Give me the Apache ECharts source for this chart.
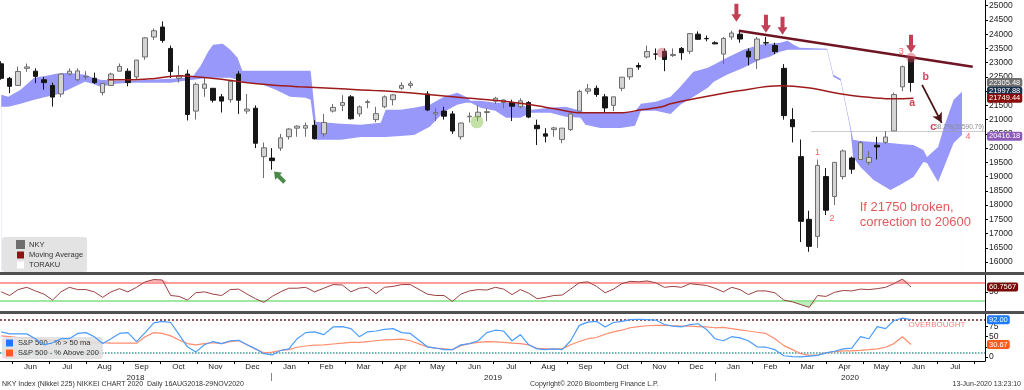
<!DOCTYPE html>
<html><head><meta charset="utf-8">
<script src="https://cdn.jsdelivr.net/npm/echarts@6/dist/echarts.min.js"></script>
<style>html,body{margin:0;padding:0;background:#fff}#c{width:1024px;height:390px}</style>
</head><body><div id="c"></div>
<script>
// ---------------- DATA ----------------
const weekDates = ['2018-05-23','2018-05-30','2018-06-06','2018-06-13','2018-06-20','2018-06-27','2018-07-04','2018-07-11','2018-07-18','2018-07-25','2018-08-01','2018-08-08','2018-08-15','2018-08-22','2018-08-29','2018-09-05','2018-09-12','2018-09-19','2018-09-26','2018-10-03','2018-10-10','2018-10-17','2018-10-24','2018-10-31','2018-11-07','2018-11-14','2018-11-21','2018-11-28','2018-12-05','2018-12-12','2018-12-19','2018-12-26',
'2019-01-02','2019-01-09','2019-01-16','2019-01-23','2019-01-30','2019-02-06','2019-02-13','2019-02-20','2019-02-27','2019-03-06','2019-03-13','2019-03-20','2019-03-27','2019-04-03','2019-04-10','2019-04-17','2019-04-24','2019-05-08','2019-05-15','2019-05-22','2019-05-29','2019-06-05','2019-06-12','2019-06-19','2019-06-26','2019-07-03','2019-07-10','2019-07-17','2019-07-24','2019-07-31','2019-08-07','2019-08-14','2019-08-21','2019-08-28','2019-09-04','2019-09-11','2019-09-18','2019-09-25','2019-10-02','2019-10-09','2019-10-16','2019-10-23','2019-10-30','2019-11-06','2019-11-13','2019-11-20','2019-11-27','2019-12-04','2019-12-11','2019-12-18','2019-12-25',
'2020-01-01','2020-01-08','2020-01-15','2020-01-22','2020-01-29','2020-02-05','2020-02-12','2020-02-19','2020-02-26','2020-03-04','2020-03-11','2020-03-18','2020-03-25','2020-04-01','2020-04-08','2020-04-15','2020-04-22','2020-04-29','2020-05-06','2020-05-13','2020-05-20','2020-05-27','2020-06-03','2020-06-10'];

const nkyOpen = [22960,22450,22200,22800,22700,22400,22200,21900,22600,22400,22500,22450,21950,22200,22700,22700,22500,23200,23900,24250,23500,22450,22600,21300,22100,22100,21800,21700,22600,21300,21400,19700,
19650,20000,20400,20700,20700,20800,20500,21300,21500,21800,21200,21600,21000,21450,21700,22100,22200,21900,21200,21300,21200,20400,21100,21100,21250,21650,21600,21600,21450,21600,20800,20500,20650,20300,20650,21300,22000,22100,21800,21500,22100,22500,22900,23200,23300,23400,23250,23500,23400,24000,23850,
23700,23300,23900,24000,23400,23100,23700,23600,22800,21000,19700,17500,16900,19000,18300,19000,19650,19600,19500,20100,20200,20600,22150,23150];
const nkyHigh = [23050,22500,22860,22970,22800,22500,22300,22620,22800,22800,22700,22650,22270,22650,22970,22800,23100,23900,24200,24450,23600,22900,22750,22300,22500,22100,21900,22400,22700,21900,21500,20200,
20000,20500,20700,20800,20900,20980,21200,21550,21860,21860,21500,21700,21450,21850,21900,22310,22360,22000,21400,21450,21300,20900,21250,21500,21400,21800,21700,21700,21750,21650,21000,20700,20750,20700,21250,22050,22250,22200,21900,21800,22500,22800,23000,23600,23500,23500,23500,23550,24000,24100,23950,
23750,23900,24120,24100,23500,23900,23900,23700,22950,21400,20300,17800,19600,19300,19500,19950,19700,20250,19900,20400,20600,21950,22900,23190];
const nkyLow = [22400,21930,22180,22680,22280,22050,21460,21790,22550,22350,22400,22250,21850,22200,22700,22170,22400,23100,23800,23700,22460,22300,20970,21000,21800,21600,21250,21600,21200,21200,20000,18950,
19240,19900,20300,20400,20400,20300,20400,21250,21300,21000,21100,21400,20910,21400,21500,22050,22100,21300,20950,21000,20500,20300,20900,20950,20950,21550,21400,20950,21400,21050,20110,20200,20400,20170,20600,21300,21900,21800,21250,21300,22000,22400,22750,23150,23100,22700,23200,23100,23300,23800,23750,
23650,22950,23800,23700,22900,22780,23600,23300,21000,20200,16700,16360,16500,17650,18000,18900,19100,19600,19400,19600,20150,20600,22000,21980];
const nkyClose = [22450,22170,22690,22850,22520,22300,21790,22600,22700,22710,22520,22300,22270,22600,22870,22300,23090,23870,24120,23780,22690,22530,21180,22240,22250,21680,21650,22350,21680,21370,20170,20010,
19560,20360,20670,20770,20790,20330,20900,21430,21600,21030,21450,21630,21210,21800,21870,22200,22260,21340,21250,21120,20600,20880,21120,21260,21280,21750,21690,21470,21660,21090,20680,20420,20710,20700,21200,21990,22080,21880,21410,21800,22490,22800,22850,23390,23300,23110,23290,23350,24020,23820,23840,
23660,23850,24040,23830,23200,23830,23690,23390,21140,20750,17430,16550,19390,17820,19500,19900,19260,20190,19670,20040,20390,21880,22860,22305.48];

const rsiValues = [50,42,55,60,52,45,32,50,60,55,55,50,38,50,57,50,60,72,77,76,42,40,32,48,50,45,42,55,56,45,35,27,
40,50,58,58,60,50,58,66,65,50,58,60,46,60,62,66,66,45,42,42,29,45,52,55,54,60,56,44,55,47,35,38,42,43,56,70,72,62,48,56,68,73,72,74,70,60,62,60,68,66,64,
58,50,60,55,44,52,52,48,32,28,22,16,42,40,49,53,52,56,55,57,60,68,78,60.7567];

const spxAbove50 = [62,57,57,57,45,30,35,45,45,58,60,50,33,45,58,60,38,60,84,88,85,55,25,12,30,38,33,40,41,30,20,8,
5,16,20,45,60,62,55,74,75,70,50,62,64,68,70,60,58,25,22,18,18,30,33,40,60,66,64,40,55,30,20,18,20,18,40,78,86,88,74,85,88,92,93,92,91,80,76,74,80,82,68,
45,40,50,47,40,25,24,18,3,1,0,2,4,10,14,20,22,50,45,75,70,90,96,92.00];
const spxAbove200 = [52,50,48,47,45,43,40,40,38,37,36,35,35,34,34,34,34,50,60,58,52,42,33,30,33,35,33,38,40,30,20,10,
12,16,18,24,27,29,30,32,34,36,36,38,40,42,43,44,40,25,22,20,18,28,33,36,38,37,36,34,33,30,21,20,20,20,30,38,45,48,56,62,66,72,75,77,78,78,77,76,76,75,74,
72,73,70,67,64,61,58,45,28,18,8,4,5,10,13,15,15,16,18,20,24,33,50,30.67];

const maDates = ['2018-08-19','2018-09-07','2018-09-23','2018-10-18','2018-10-31','2018-11-17','2018-12-06','2018-12-30','2019-01-25','2019-02-26','2019-03-31','2019-05-02','2019-06-07','2019-07-07','2019-08-02','2019-08-22','2019-09-12','2019-10-15','2019-11-01','2019-11-18','2019-11-25','2019-12-19','2020-01-21','2020-02-23','2020-03-17','2020-04-18','2020-05-28','2020-06-12'];
const maValues = [22398,22398,22433,22539,22504,22433,22328,22222,22152,22082,22011,21906,21765,21660,21519,21378,21238,21238,21343,21449,21554,21765,22011,22187,22117,21871,21730,21749.44];

const cloudDates = ['2018-05-23','2018-05-29','2018-06-08','2018-06-19','2018-06-29','2018-07-07','2018-07-17','2018-07-24','2018-07-31','2018-08-07','2018-08-13','2018-08-26','2018-09-07','2018-09-23','2018-10-10','2018-10-22','2018-10-29','2018-11-04','2018-11-10','2018-11-14','2018-11-22','2018-11-28','2018-12-04','2018-12-08','2018-12-23','2019-01-05','2019-01-17','2019-01-30','2019-02-03','2019-02-07','2019-02-26','2019-03-14','2019-03-31','2019-04-04','2019-04-16','2019-04-27','2019-05-10','2019-05-22','2019-06-02','2019-06-09','2019-06-13','2019-06-21','2019-07-03','2019-07-12','2019-07-24','2019-08-02','2019-08-18','2019-08-31','2019-09-12','2019-09-16','2019-09-28','2019-10-15','2019-10-27','2019-11-01','2019-11-13','2019-11-25','2019-12-03','2019-12-14','2019-12-26','2019-12-31','2020-01-11','2020-01-25','2020-02-07','2020-02-15','2020-02-23','2020-02-29','2020-03-05','2020-03-10','2020-04-02','2020-04-07','2020-04-13','2020-04-18','2020-04-21','2020-04-23','2020-04-29','2020-05-10','2020-05-24','2020-06-01','2020-06-12','2020-06-20','2020-06-23','2020-07-02','2020-07-07','2020-07-15','2020-07-22'];
const cloudLower = [21450,21450,21554,21695,21800,21871,22047,22187,22328,22258,22152,22258,22293,22293,22293,22363,22398,22433,22469,22469,22469,22469,22398,22328,22258,22047,21800,21765,21695,20289,20289,20394,20394,20394,20429,20464,20746,21273,21519,21589,21589,21414,21308,21062,21062,21238,21238,21097,21062,20816,20710,20710,20781,21308,21308,21200,21519,21800,22117,22328,22574,22820,23101,23207,23383,23453,23453,23453,23453,22504,22363,21273,20640,19691,19339,18882,18531,18706,18988,19515,19480,18812,19339,20183,20464];
const cloudUpper = [21870,21800,22047,22469,22539,22609,22644,22609,22574,22469,22398,22363,22363,22398,22433,22469,22539,22890,23383,23629,23664,23453,23172,22715,22715,22715,22715,22715,22715,20921,20851,20816,20886,21343,21343,21414,21519,21800,21941,21800,21660,21660,21589,21589,21554,21343,21414,21449,21308,21238,21238,21238,21273,21554,21625,21800,22152,22679,22820,22926,23172,23453,23629,23664,23699,23769,23629,23523,23488,22574,22433,21343,20746,20289,20253,20218,20183,20148,20113,19937,19691,20042,20746,21695,21976];

const priceTicks = [16000,16500,17000,17500,18000,18500,19000,19500,20000,20500,21000,21500,22000,22500,23000,23500,24000,24500,25000];
const rsiTicks = [50];
const breadthTicks = [0,25,50,75];
const monthNames = ['Jan','Feb','Mar','Apr','May','Jun','Jul','Aug','Sep','Oct','Nov','Dec'];
const years = ['2018','2019','2020'];

const mainTagValues = [22305.48, 21997.88, 21749.44, 20416.18];
const mainTagTexts = ['22305.48','21997.88','21749.44','20416.18'];
const rsiTagValue = 60.7567, rsiTagText = '60.7567';
const rsiLevels = [70, 30];
const breadthTagValues = [92.00, 30.67];
const breadthTagTexts = ['92.00','30.67'];
const breadthLevels = [92, 10];

const trendLine = [['2020-01-21',24121],['2020-07-31',22855]];
const bcArrow = [['2020-06-19',22222],['2020-07-05',20886]];
const fibLevel = {from:'2020-03-20', value:20590.79, text:'38.2%(20590.79)'};
const redArrows = [['2020-01-19',24754],['2020-02-12',24367],['2020-02-25',24297],['2020-06-10',23664]];
const greenArrow = [['2019-01-08',18988]];
const pinkDots = [['2019-11-18',23347],['2020-06-10',23172]];
const greenDots = [['2019-06-18',20921]];
const waveLabels = [['1','2020-03-25',19832],['2','2020-04-06',17511],['3','2020-06-02',23383],['4','2020-07-27',20394]];
const abcLabels = [['a','2020-06-11',21589],['b','2020-06-22',22504],['c','2020-06-28',20746]];
const noteText = ['If 21750 broken,\ncorrection to 20600','2020-04-28',17651];
const overboughtText = ['OVERBOUGHT','2020-07-01',80];
const footer = ['NKY Index (Nikkei 225) NIKKEI CHART 2020  Daily 16AUG2018-29NOV2020','Copyright\u00a9 2020 Bloomberg Finance L.P.','13-Jun-2020 13:23:10'];

// ---------------- BUILD ----------------
function toT(s){const p=s.split('-').map(Number);const dim=new Date(p[0],p[1],0).getDate();return (p[0]-2018)*12+(p[1]-6)+(p[2]-1)/dim;}
const X_MIN=-0.324, X_MAX=26.3;
const FONT='Liberation Sans, Arial, sans-serif';
const monthTicks=[];for(let i=0;i<=26;i++)monthTicks.push(i);
const monthLabelPos=[];for(let i=0;i<=25;i++)monthLabelPos.push(i+0.5);
const yearBounds=[7,19];
const yearLabelPos=[(X_MIN+7)/2,13,(19+X_MAX)/2];
const TRANSPARENT='rgba(0,0,0,0)';

const wx=weekDates.map(toT);
const candles=wx.map((t,i)=>[t,nkyOpen[i],nkyClose[i],nkyLow[i],nkyHigh[i]]);
const cx=cloudDates.map(toT);
const cloudUpperData=cx.map((t,i)=>[t,cloudUpper[i]]);
const cloudLowerData=cx.map((t,i)=>[t,cloudLower[i]]);
const maData=maDates.map((d,i)=>[toT(d),maValues[i]]);
const rsiData=wx.map((t,i)=>[t,rsiValues[i]]);
const rsiHi=wx.map((t,i)=>[t,Math.max(rsiValues[i],rsiLevels[0])]);
const rsiLo=wx.map((t,i)=>[t,Math.min(rsiValues[i],rsiLevels[1])]);
const b50=wx.map((t,i)=>[t,spxAbove50[i]]);
const b200=wx.map((t,i)=>[t,spxAbove200[i]]);

function tag(v,text,bg){return {yAxis:v,lineStyle:{color:TRANSPARENT,width:0},label:{show:true,position:'end',distance:2,formatter:text,backgroundColor:bg,color:'#fff',fontSize:7.5,padding:[1,2,0,2],borderRadius:2,fontFamily:FONT}};}
const mainTagColors=['#6f6f6f','#1c3350','#8a0c0c','#8c5ab8'];
const textPt=(arr)=>({value:[toT(arr[1]),arr[2]],name:arr[0]});
const plain=v=>String(v);

const option={
 animation:false,
 textStyle:{fontFamily:FONT},
 grid:[
  {left:0,right:39,top:0,height:272},
  {left:0,right:39,top:275,height:36},
  {left:0,right:39,top:314,height:47}
 ],
 xAxis:[
  {gridIndex:0,type:'value',min:X_MIN,max:X_MAX,show:false,axisLine:{onZero:false}},
  {gridIndex:1,type:'value',min:X_MIN,max:X_MAX,show:false,axisLine:{onZero:false}},
  {gridIndex:2,type:'value',min:X_MIN,max:X_MAX,position:'bottom',
   axisLine:{show:true,onZero:false,lineStyle:{color:'#000',width:1}},
   axisTick:{show:true,length:3,customValues:monthTicks,lineStyle:{color:'#000'}},
   axisLabel:{customValues:monthLabelPos,fontSize:8,margin:2,color:'#222',formatter:v=>monthNames[(Math.floor(v)+5)%12]},
   splitLine:{show:false}},
  {gridIndex:2,type:'value',min:X_MIN,max:X_MAX,position:'bottom',offset:12,
   axisLine:{show:false,onZero:false},
   axisTick:{show:true,length:8,customValues:yearBounds,lineStyle:{color:'#888'}},
   axisLabel:{customValues:yearLabelPos,fontSize:8,margin:1,color:'#222',formatter:v=>v<7?years[0]:(v<19?years[1]:years[2])},
   splitLine:{show:false}}
 ],
 yAxis:[
  {gridIndex:0,type:'value',position:'right',min:15650,max:25200,
   axisLine:{show:true,onZero:false,lineStyle:{color:'#000'}},
   axisTick:{show:true,length:3,customValues:priceTicks,lineStyle:{color:'#000'}},
   axisLabel:{customValues:priceTicks,fontSize:8.5,margin:4,color:'#222',formatter:plain},splitLine:{show:false}},
  {gridIndex:1,type:'value',position:'right',min:8,max:87,
   axisLine:{show:true,onZero:false,lineStyle:{color:'#000'}},
   axisTick:{show:true,length:3,customValues:rsiTicks,lineStyle:{color:'#000'}},
   axisLabel:{customValues:rsiTicks,fontSize:8.5,margin:4,color:'#222',formatter:plain},splitLine:{show:false}},
  {gridIndex:2,type:'value',position:'right',min:-10,max:106,
   axisLine:{show:true,onZero:false,lineStyle:{color:'#000'}},
   axisTick:{show:true,length:3,customValues:breadthTicks,lineStyle:{color:'#000'}},
   axisLabel:{customValues:breadthTicks,fontSize:8.5,margin:4,color:'#222',formatter:plain},splitLine:{show:false}}
 ],
 legend:[
  {orient:'vertical',left:2,top:237,itemWidth:7,itemHeight:7,itemGap:2,icon:'rect',selectedMode:false,
   backgroundColor:'rgba(222,222,222,0.85)',borderRadius:3,padding:[3,4,3,14],
   textStyle:{fontSize:7.5,color:'#333',fontFamily:FONT},
   data:[{name:'NKY',itemStyle:{color:'#6e6e6e'}},{name:'Moving Average',itemStyle:{color:'#8b1414'}},{name:'TORAKU',itemStyle:{color:'#ffffff'}}]},
  {orient:'vertical',left:2,top:337,itemWidth:7,itemHeight:7,itemGap:2,icon:'rect',selectedMode:false,
   backgroundColor:'rgba(222,222,222,0.85)',borderRadius:3,padding:[2,4,2,4],
   textStyle:{fontSize:7.5,color:'#333',fontFamily:FONT},
   data:[{name:'S&P 500 - % > 50 ma',itemStyle:{color:'#1f78ff'}},{name:'S&P 500 - % Above 200',itemStyle:{color:'#ff5a24'}}]}
 ],
 series:[
  {name:'TORAKU',type:'line',xAxisIndex:0,yAxisIndex:0,data:cloudUpperData,symbol:'none',lineStyle:{width:0},
   areaStyle:{color:'#9898fa',opacity:1,origin:'start'},itemStyle:{color:'#9898fa'},z:1,silent:true},
  {name:'kumoMask',type:'line',xAxisIndex:0,yAxisIndex:0,data:cloudLowerData,symbol:'none',lineStyle:{width:0},
   areaStyle:{color:'#ffffff',opacity:1,origin:'start'},itemStyle:{color:'#ffffff'},z:1,silent:true},
  {name:'NKY',type:'candlestick',xAxisIndex:0,yAxisIndex:0,data:candles,encode:{x:0,y:[1,2,3,4]},barWidth:5,z:3,
   itemStyle:{color:'#d4d4d4',color0:'#161616',borderColor:'#6e6e6e',borderColor0:'#161616',borderWidth:1},
   markLine:{silent:true,symbol:'none',z:10,
    data:mainTagValues.map((v,i)=>tag(v,mainTagTexts[i],mainTagColors[i]))}},
  {name:'Moving Average',type:'line',xAxisIndex:0,yAxisIndex:0,data:maData,smooth:0.35,symbol:'none',z:4,
   lineStyle:{color:'#9e1b1b',width:1.5},itemStyle:{color:'#9e1b1b'},
   markLine:{silent:true,symbol:['none','none'],z:6,
    data:[
     [{coord:[toT(trendLine[0][0]),trendLine[0][1]],lineStyle:{color:'#6e1423',width:2.6,type:'solid'},label:{show:false}},
      {coord:[toT(trendLine[1][0]),trendLine[1][1]]}],
     [{coord:[toT(bcArrow[0][0]),bcArrow[0][1]],symbol:'none',lineStyle:{color:'#4b1616',width:1.8,type:'solid'},label:{show:false}},
      {coord:[toT(bcArrow[1][0]),bcArrow[1][1]],symbol:'arrow',symbolSize:[8,10]}],
     [{coord:[toT(fibLevel.from),fibLevel.value],lineStyle:{color:'#9a9a9a',width:1,type:'dotted'},
       label:{show:true,position:'insideEndTop',formatter:fibLevel.text,fontSize:6.5,color:'#8a8a8a',distance:1}},
      {coord:[X_MAX,fibLevel.value]}]
    ]}},
  {name:'redArrows',type:'scatter',xAxisIndex:0,yAxisIndex:0,z:8,silent:true,
   data:redArrows.map(a=>[toT(a[0]),a[1]]),
   symbol:'path://M3,0 L7,0 L7,10 L10,10 L5,17 L0,10 L3,10 Z',symbolSize:[10,18],itemStyle:{color:'#b3102c'}},
  {name:'greenArrow',type:'scatter',xAxisIndex:0,yAxisIndex:0,z:8,silent:true,
   data:greenArrow.map(a=>[toT(a[0]),a[1]]),
   symbol:'path://M5,0 L10,7 L7,7 L7,16 L3,16 L3,7 L0,7 Z',symbolSize:[10,15],symbolRotate:45,itemStyle:{color:'#1d6b1d'}},
  {name:'pinkDots',type:'scatter',xAxisIndex:0,yAxisIndex:0,z:7,silent:true,
   data:pinkDots.map(a=>[toT(a[0]),a[1]]),symbolSize:10,itemStyle:{color:'rgba(205,70,90,0.55)'}},
  {name:'greenDots',type:'scatter',xAxisIndex:0,yAxisIndex:0,z:7,silent:true,
   data:greenDots.map(a=>[toT(a[0]),a[1]]),symbolSize:13,itemStyle:{color:'rgba(130,190,70,0.6)'}},
  {name:'waveLabels',type:'scatter',xAxisIndex:0,yAxisIndex:0,z:9,silent:true,symbolSize:1,itemStyle:{color:TRANSPARENT},
   data:waveLabels.map(textPt),
   label:{show:true,position:'inside',formatter:'{b}',fontSize:9,color:'#ff3b3b'}},
  {name:'abcLabels',type:'scatter',xAxisIndex:0,yAxisIndex:0,z:9,silent:true,symbolSize:1,itemStyle:{color:TRANSPARENT},
   data:abcLabels.map(textPt),
   label:{show:true,position:'inside',formatter:'{b}',fontSize:10.5,fontWeight:'bold',color:'#c8102e'}},
  {name:'note',type:'scatter',xAxisIndex:0,yAxisIndex:0,z:9,silent:true,symbolSize:1,itemStyle:{color:TRANSPARENT},
   data:[textPt(noteText)],
   label:{show:true,position:'right',distance:0,formatter:'{b}',fontSize:13,lineHeight:15,color:'#d9312f',align:'left'}},
  // RSI panel
  {name:'rsiHiFill',type:'line',xAxisIndex:1,yAxisIndex:1,data:rsiHi,symbol:'none',lineStyle:{width:0},
   areaStyle:{origin:rsiLevels[0],color:'rgba(255,95,95,0.6)'},z:1,silent:true},
  {name:'rsiLoFill',type:'line',xAxisIndex:1,yAxisIndex:1,data:rsiLo,symbol:'none',lineStyle:{width:0},
   areaStyle:{origin:rsiLevels[1],color:'rgba(90,215,90,0.6)'},z:1,silent:true},
  {name:'RSI',type:'line',xAxisIndex:1,yAxisIndex:1,data:rsiData,symbol:'none',z:3,
   lineStyle:{color:'#9c4040',width:1},
   markLine:{silent:true,symbol:'none',z:2,data:[
    {yAxis:rsiLevels[0],lineStyle:{color:'#ff9c9c',width:2,type:'solid'},label:{show:false}},
    {yAxis:rsiLevels[1],lineStyle:{color:'#9fe89f',width:2,type:'solid'},label:{show:false}},
    tag(rsiTagValue,rsiTagText,'#7a0808')
   ]}},
  // Breadth panel
  {name:'S&P 500 - % Above 200',type:'line',xAxisIndex:2,yAxisIndex:2,data:b200,symbol:'none',z:3,
   lineStyle:{color:'#ff8d6e',width:1.2},itemStyle:{color:'#ff5a24'},
   markLine:{silent:true,symbol:'none',z:10,data:[tag(breadthTagValues[1],breadthTagTexts[1],'#ff5a1e')]}},
  {name:'S&P 500 - % > 50 ma',type:'line',xAxisIndex:2,yAxisIndex:2,data:b50,symbol:'none',z:4,
   lineStyle:{color:'#4a9cff',width:1.2},itemStyle:{color:'#1f78ff'},
   markLine:{silent:true,symbol:'none',z:2,data:[
    {yAxis:breadthLevels[0],lineStyle:{color:'#8a5a5a',width:2,type:'dotted'},label:{show:false}},
    {yAxis:breadthLevels[1],lineStyle:{color:'#3a9a9a',width:1.5,type:'dotted'},label:{show:false}},
    tag(breadthTagValues[0],breadthTagTexts[0],'#1f78ff')
   ]}},
  {name:'overbought',type:'scatter',xAxisIndex:2,yAxisIndex:2,z:9,silent:true,symbolSize:1,itemStyle:{color:TRANSPARENT},
   data:[textPt(overboughtText)],
   label:{show:true,position:'inside',formatter:'{b}',fontSize:8,color:'#ff5a5a'}}
 ],
 graphic:[
  {type:'rect',shape:{x:0,y:272,width:1024,height:3},style:{fill:'#505050'},z:100,silent:true},
  {type:'rect',shape:{x:0,y:311,width:1024,height:3},style:{fill:'#505050'},z:100,silent:true},
  {type:'text',left:2,top:381,style:{text:footer[0],fontSize:7,fill:'#333',fontFamily:FONT},silent:true},
  {type:'text',left:530,top:381,style:{text:footer[1],fontSize:7,fill:'#333',fontFamily:FONT},silent:true},
  {type:'text',right:3,top:381,style:{text:footer[2],fontSize:7,fill:'#333',fontFamily:FONT},silent:true}
 ]
};
const chart=echarts.init(document.getElementById('c'),null,{renderer:'canvas',width:1024,height:390});
chart.setOption(option);
</script></body></html>
